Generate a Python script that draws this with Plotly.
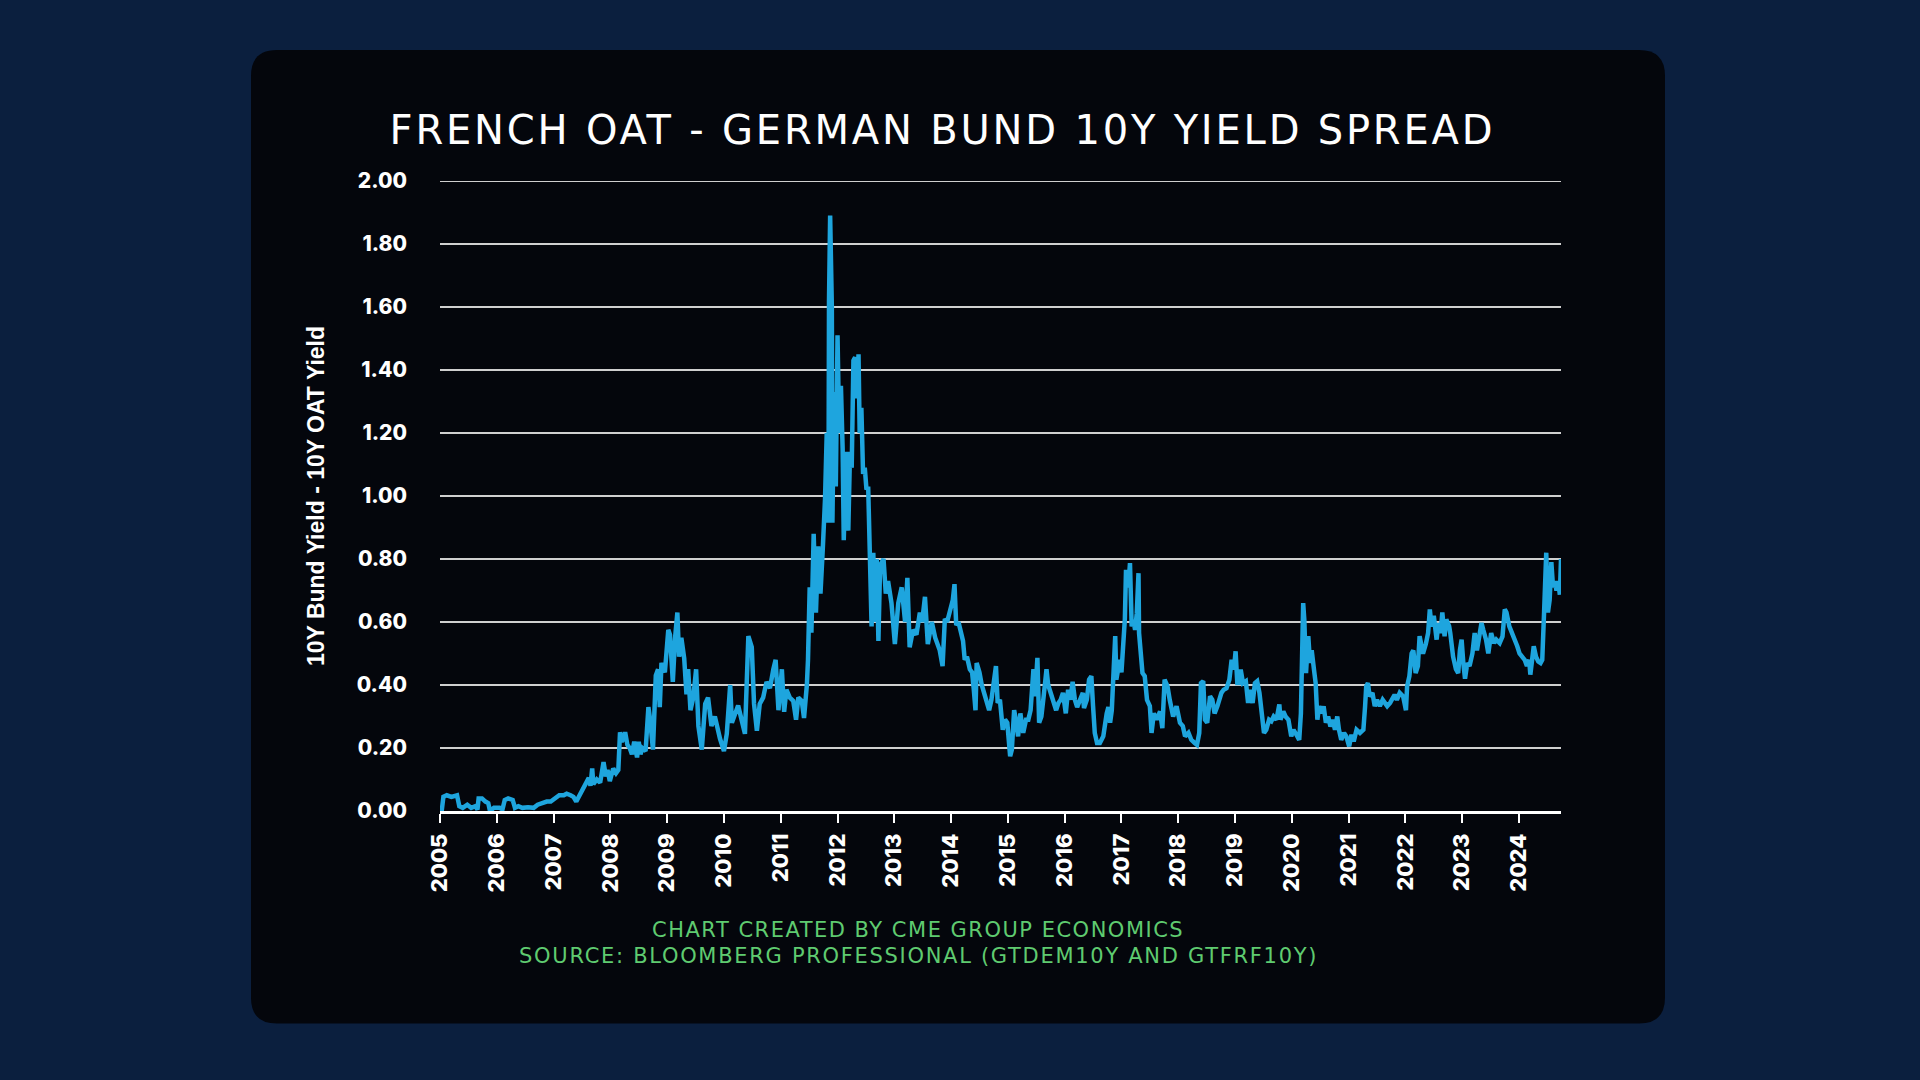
import json
import plotly.graph_objects as go

# ---------------- data (decimal year, spread in %) ----------------
years_2005_2008 = [
    2005.00, 2005.03, 2005.06, 2005.12, 2005.20, 2005.30, 2005.34, 2005.40, 2005.48, 2005.55,
    2005.62, 2005.66, 2005.68, 2005.74, 2005.80, 2005.85, 2005.88, 2005.95, 2006.05, 2006.10,
    2006.14, 2006.20, 2006.28, 2006.32, 2006.38, 2006.45, 2006.55, 2006.65, 2006.72, 2006.80,
    2006.88, 2006.95, 2007.03, 2007.10, 2007.18, 2007.23, 2007.30, 2007.35, 2007.40, 2007.46,
    2007.52, 2007.58, 2007.62, 2007.65, 2007.68, 2007.70, 2007.76, 2007.82, 2007.88, 2007.92,
    2007.95, 2007.99, 2008.05, 2008.10, 2008.14, 2008.17, 2008.20, 2008.23, 2008.26, 2008.30,
    2008.34, 2008.38, 2008.42, 2008.47, 2008.50, 2008.53, 2008.56, 2008.62, 2008.67, 2008.70,
    2008.75, 2008.80, 2008.84, 2008.87]
spread_2005_2008 = [
    0.00, 0.00, 0.045, 0.05, 0.045, 0.05, 0.015, 0.01, 0.02, 0.01,
    0.015, 0.005, 0.04, 0.04, 0.03, 0.025, 0.0, 0.01, 0.01, 0.005,
    0.035, 0.04, 0.035, 0.01, 0.015, 0.01, 0.012, 0.01, 0.02, 0.025,
    0.03, 0.03, 0.04, 0.05, 0.05, 0.055, 0.05, 0.045, 0.03, 0.05,
    0.075, 0.09, 0.105, 0.08, 0.135, 0.085, 0.10, 0.09, 0.155, 0.11,
    0.13, 0.095, 0.135, 0.12, 0.13, 0.25, 0.22, 0.23, 0.25, 0.21,
    0.20, 0.18, 0.22, 0.17, 0.22, 0.18, 0.20, 0.19, 0.33, 0.29,
    0.195, 0.43, 0.45, 0.33]

years_2009_2011 = [
    2008.90, 2008.96, 2009.02, 2009.05, 2009.10, 2009.14, 2009.18, 2009.21, 2009.25, 2009.30,
    2009.34, 2009.37, 2009.41, 2009.46, 2009.51, 2009.55, 2009.61, 2009.67, 2009.72, 2009.78,
    2009.84, 2009.93, 2010.00, 2010.05, 2010.11, 2010.14, 2010.19, 2010.25, 2010.31, 2010.37,
    2010.43, 2010.49, 2010.53, 2010.58, 2010.63, 2010.69, 2010.75, 2010.81, 2010.87, 2010.91,
    2010.96, 2011.02, 2011.06, 2011.10, 2011.16, 2011.22, 2011.27, 2011.31, 2011.37, 2011.41,
    2011.46, 2011.48]
spread_2009_2011 = [
    0.47, 0.44, 0.575, 0.56, 0.41, 0.55, 0.63, 0.49, 0.55, 0.485,
    0.37, 0.45, 0.32, 0.36, 0.45, 0.27, 0.195, 0.34, 0.36, 0.27,
    0.30, 0.23, 0.19, 0.245, 0.40, 0.28, 0.31, 0.335, 0.29, 0.245,
    0.555, 0.52, 0.34, 0.255, 0.34, 0.36, 0.41, 0.39, 0.45, 0.48,
    0.32, 0.45, 0.315, 0.385, 0.36, 0.35, 0.29, 0.36, 0.35, 0.295,
    0.40, 0.48]

years_2011_2013 = [
    2011.51, 2011.54, 2011.58, 2011.62, 2011.66, 2011.70, 2011.74, 2011.78, 2011.81, 2011.84,
    2011.85, 2011.87, 2011.90, 2011.91, 2011.94, 2011.97, 2012.00, 2012.03, 2012.06, 2012.09,
    2012.11, 2012.15, 2012.19, 2012.22, 2012.25, 2012.28, 2012.31, 2012.34, 2012.37, 2012.39,
    2012.42, 2012.45, 2012.48, 2012.51, 2012.54, 2012.57, 2012.60, 2012.63, 2012.66, 2012.69,
    2012.72, 2012.75, 2012.81, 2012.85, 2012.89, 2012.95, 2013.01, 2013.07, 2013.13, 2013.19,
    2013.23, 2013.27, 2013.33, 2013.39, 2013.45, 2013.49, 2013.54, 2013.59, 2013.66, 2013.72,
    2013.80]
spread_2011_2013 = [
    0.71, 0.566, 0.88, 0.63, 0.84, 0.69, 0.83, 0.99, 1.20, 0.915,
    1.62, 1.89, 1.60, 0.915, 1.33, 1.03, 1.51, 1.20, 1.35, 1.15,
    0.86, 1.14, 0.89, 1.14, 1.09, 1.43, 1.44, 1.31, 1.45, 1.20,
    1.28, 1.07, 1.09, 1.02, 1.03, 0.82, 0.586, 0.82, 0.60, 0.80,
    0.54, 0.78, 0.80, 0.69, 0.73, 0.66, 0.53, 0.66, 0.71, 0.60,
    0.74, 0.52, 0.575, 0.56, 0.63, 0.60, 0.68, 0.53, 0.60, 0.55,
    0.51]

years_2014_2018 = [
    2013.85, 2013.89, 2013.93, 2013.98, 2014.03, 2014.06, 2014.09, 2014.13, 2014.17, 2014.21,
    2014.24, 2014.28, 2014.33, 2014.37, 2014.40, 2014.43, 2014.45, 2014.50, 2014.54, 2014.58,
    2014.63, 2014.67, 2014.71, 2014.75, 2014.79, 2014.82, 2014.86, 2014.91, 2014.95, 2014.99,
    2015.04, 2015.07, 2015.11, 2015.14, 2015.18, 2015.22, 2015.27, 2015.32, 2015.36, 2015.40,
    2015.45, 2015.48, 2015.52, 2015.55, 2015.59, 2015.63, 2015.68, 2015.71, 2015.75, 2015.80,
    2015.85, 2015.89, 2015.93, 2015.97, 2016.02, 2016.06, 2016.10, 2016.14, 2016.18, 2016.22,
    2016.27, 2016.32, 2016.34, 2016.39, 2016.43, 2016.47, 2016.50, 2016.53, 2016.57, 2016.62,
    2016.68, 2016.71, 2016.74, 2016.77, 2016.80, 2016.83, 2016.86, 2016.89, 2016.91, 2016.94,
    2016.97, 2017.00, 2017.03, 2017.06, 2017.08, 2017.12, 2017.15, 2017.18, 2017.21, 2017.24,
    2017.27, 2017.30, 2017.31, 2017.34, 2017.37, 2017.41, 2017.45, 2017.50, 2017.53, 2017.57,
    2017.62, 2017.68, 2017.72, 2017.76, 2017.81, 2017.85, 2017.91, 2017.97, 2018.03, 2018.08,
    2018.12, 2018.18, 2018.23, 2018.29, 2018.33]
spread_2014_2018 = [
    0.46, 0.61, 0.60, 0.63, 0.67, 0.72, 0.59, 0.60, 0.575, 0.54,
    0.48, 0.49, 0.45, 0.44, 0.385, 0.32, 0.47, 0.44, 0.40, 0.375,
    0.353, 0.32, 0.353, 0.40, 0.46, 0.343, 0.353, 0.258, 0.29, 0.28,
    0.174, 0.195, 0.32, 0.29, 0.237, 0.31, 0.248, 0.29, 0.29, 0.32,
    0.45, 0.364, 0.486, 0.28, 0.30, 0.364, 0.45, 0.40, 0.375, 0.343,
    0.32, 0.343, 0.353, 0.375, 0.31, 0.385, 0.353, 0.41, 0.353, 0.33,
    0.353, 0.375, 0.327, 0.353, 0.417, 0.428, 0.333, 0.248, 0.216, 0.216,
    0.237, 0.29, 0.31, 0.33, 0.28, 0.32, 0.47, 0.555, 0.417, 0.46,
    0.48, 0.44, 0.52, 0.61, 0.766, 0.71, 0.787, 0.586, 0.607, 0.575,
    0.628, 0.755, 0.565, 0.48, 0.438, 0.428, 0.353, 0.333, 0.248, 0.31,
    0.29, 0.316, 0.263, 0.417, 0.396, 0.353, 0.30, 0.333, 0.28, 0.27,
    0.237, 0.248, 0.226, 0.216, 0.21]

years_2018_2022 = [
    2018.37, 2018.40, 2018.44, 2018.47, 2018.51, 2018.56, 2018.60, 2018.64, 2018.69, 2018.72,
    2018.76, 2018.80, 2018.85, 2018.90, 2018.94, 2018.98, 2019.01, 2019.04, 2019.07, 2019.10,
    2019.14, 2019.19, 2019.23, 2019.26, 2019.31, 2019.35, 2019.39, 2019.43, 2019.47, 2019.51,
    2019.55, 2019.60, 2019.64, 2019.68, 2019.73, 2019.78, 2019.80, 2019.85, 2019.89, 2019.94,
    2019.99, 2020.03, 2020.08, 2020.13, 2020.16, 2020.18, 2020.20, 2020.22, 2020.25, 2020.27,
    2020.29, 2020.32, 2020.35, 2020.39, 2020.42, 2020.45, 2020.48, 2020.52, 2020.56, 2020.60,
    2020.64, 2020.68, 2020.72, 2020.76, 2020.80, 2020.83, 2020.87, 2020.92, 2020.96, 2021.01,
    2021.05, 2021.09, 2021.14, 2021.20, 2021.26, 2021.29, 2021.31, 2021.34, 2021.37, 2021.42,
    2021.46, 2021.50, 2021.55, 2021.60, 2021.64, 2021.68, 2021.73, 2021.77, 2021.81, 2021.85,
    2021.90, 2021.96, 2022.01, 2022.03, 2022.07, 2022.11, 2022.14, 2022.18, 2022.22, 2022.25,
    2022.28, 2022.31, 2022.36, 2022.40, 2022.43, 2022.46, 2022.50]
spread_2018_2022 = [
    0.248, 0.406, 0.412, 0.29, 0.28, 0.364, 0.353, 0.31, 0.333, 0.353,
    0.375, 0.385, 0.39, 0.417, 0.48, 0.449, 0.507, 0.406, 0.406, 0.449,
    0.406, 0.412, 0.343, 0.385, 0.343, 0.406, 0.412, 0.375, 0.32, 0.248,
    0.258, 0.29, 0.285, 0.30, 0.29, 0.338, 0.29, 0.316, 0.30, 0.29,
    0.237, 0.258, 0.242, 0.226, 0.31, 0.586, 0.66, 0.607, 0.438, 0.50,
    0.555, 0.47, 0.51, 0.449, 0.406, 0.29, 0.333, 0.31, 0.332, 0.28,
    0.30, 0.268, 0.29, 0.258, 0.30, 0.258, 0.226, 0.248, 0.237, 0.205,
    0.242, 0.221, 0.258, 0.248, 0.258, 0.332, 0.396, 0.406, 0.364, 0.375,
    0.333, 0.353, 0.333, 0.353, 0.343, 0.333, 0.343, 0.353, 0.369, 0.353,
    0.375, 0.364, 0.32, 0.396, 0.428, 0.50, 0.51, 0.438, 0.46, 0.555,
    0.52, 0.50, 0.53, 0.565, 0.64, 0.586, 0.62]

years_2022_2024 = [
    2022.55, 2022.58, 2022.62, 2022.65, 2022.69, 2022.72, 2022.77, 2022.79, 2022.84, 2022.89,
    2022.93, 2022.96, 2022.99, 2023.02, 2023.05, 2023.09, 2023.13, 2023.18, 2023.22, 2023.26,
    2023.30, 2023.34, 2023.37, 2023.42, 2023.46, 2023.49, 2023.51, 2023.56, 2023.60, 2023.66,
    2023.71, 2023.75, 2023.78, 2023.83, 2023.87, 2023.93, 2023.97, 2024.01, 2024.06, 2024.10,
    2024.14, 2024.18, 2024.20, 2024.24, 2024.26, 2024.30, 2024.34, 2024.38, 2024.41, 2024.44,
    2024.46, 2024.48, 2024.51, 2024.54, 2024.57, 2024.60, 2024.63, 2024.66, 2024.69, 2024.72,
    2024.74]
spread_2022_2024 = [
    0.544, 0.597, 0.565, 0.63, 0.555, 0.608, 0.587, 0.565, 0.49, 0.45,
    0.438, 0.51, 0.544, 0.47, 0.42, 0.47, 0.46, 0.50, 0.565, 0.51,
    0.565, 0.597, 0.576, 0.544, 0.50, 0.554, 0.565, 0.533, 0.544, 0.533,
    0.554, 0.64, 0.63, 0.586, 0.57, 0.544, 0.523, 0.50, 0.49, 0.48,
    0.46, 0.48, 0.433, 0.50, 0.523, 0.49, 0.475, 0.47, 0.48, 0.62,
    0.78, 0.82, 0.63, 0.67, 0.79, 0.71, 0.73, 0.70, 0.73, 0.687,
    0.80]

tick_years = list(range(2005, 2025))
tick_labels = [str(y) for y in tick_years]
y_ticks = [0.0, 0.2, 0.4, 0.6, 0.8, 1.0, 1.2, 1.4, 1.6, 1.8, 2.0]

title_text = "FRENCH OAT - GERMAN BUND 10Y YIELD SPREAD"
y_title_text = "10Y Bund Yield - 10Y OAT Yield"
footer_1 = "CHART CREATED BY CME GROUP ECONOMICS"
footer_2 = "SOURCE: BLOOMBERG PROFESSIONAL (GTDEM10Y AND GTFRF10Y)"

years = (years_2005_2008 + years_2009_2011 + years_2011_2013 + years_2014_2018
         + years_2018_2022 + years_2022_2024)
spread = (spread_2005_2008 + spread_2009_2011 + spread_2011_2013 + spread_2014_2018
          + spread_2018_2022 + spread_2022_2024)

# ---------------- layout geometry (pixels) ----------------
W, H = 1920, 1080
PL, PR, PT, PB = 440, 1561, 181, 811.3   # plot area edges
BG = "#0b1f3e"
CARD = "#04060c"
LINE = "#1ea5de"
GRID = "#cfcfcf"
GREEN = "#5fcb70"


def px(x):
    return (x - PL) / (PR - PL)


def py(y):
    return (PB - y) / (PB - PT)


cx0, cx1, cy0, cy1, r = 251, 1665, 50, 1024, 26
card_path = (
    f"M {px(cx0 + r)},{py(cy0)} L {px(cx1 - r)},{py(cy0)} "
    f"Q {px(cx1)},{py(cy0)} {px(cx1)},{py(cy0 + r)} "
    f"L {px(cx1)},{py(cy1 - r)} Q {px(cx1)},{py(cy1)} {px(cx1 - r)},{py(cy1)} "
    f"L {px(cx0 + r)},{py(cy1)} Q {px(cx0)},{py(cy1)} {px(cx0)},{py(cy1 - r)} "
    f"L {px(cx0)},{py(cy0 + r)} Q {px(cx0)},{py(cy0)} {px(cx0 + r)},{py(cy0)} Z"
)

fig = go.Figure()
fig.add_trace(go.Scatter(
    x=years, y=spread, mode="lines",
    line=dict(color=LINE, width=4.5),
    hoverinfo="x+y", showlegend=False,
))

tick_font_x = dict(family="Inter, Lato, 'DejaVu Sans', sans-serif", size=22,
                   color="white", weight=800)
tick_font_y = dict(family="Inter, Lato, 'DejaVu Sans', sans-serif", size=21,
                   color="white", weight=800)

fig.update_layout(
    width=W, height=H,
    margin=dict(l=PL, r=W - PR, t=PT, b=H - PB, pad=0),
    paper_bgcolor=BG,
    plot_bgcolor=CARD,
    showlegend=False,
    shapes=[
        dict(type="path", path=card_path, xref="paper", yref="paper",
             fillcolor=CARD, line=dict(width=0), layer="below"),
        # top gridline at 2.00 (plotly skips grid lines on the plot edge)
        dict(type="line", xref="paper", yref="y", x0=0, x1=1,
             y0=y_ticks[-1], y1=y_ticks[-1], line=dict(color=GRID, width=2),
             layer="above"),
    ],
    xaxis=dict(
        range=[2005, 2024.74],
        tickmode="array", tickvals=tick_years, ticktext=tick_labels,
        tickangle=-90, tickfont=tick_font_x,
        ticks="outside", ticklen=9, tickwidth=2, tickcolor="white",
        showline=True, linecolor="white", linewidth=2.5,
        showgrid=False, zeroline=False,
        ticklabelstandoff=2,
    ),
    yaxis=dict(
        range=[0, 2.0],
        tickmode="array", tickvals=y_ticks, tickformat=".2f",
        tickfont=tick_font_y,
        showgrid=True, gridcolor=GRID, gridwidth=2,
        zeroline=False, showline=False, ticks="",
        ticklabelstandoff=32,
    ),
    annotations=[
        dict(text=title_text, xref="paper", yref="paper", x=px(942), y=py(130),
             xanchor="center", yanchor="middle", showarrow=False,
             font=dict(family="'DejaVu Sans', sans-serif", size=40, color="white", weight=400)),
        dict(text=y_title_text, xref="paper", yref="paper", x=px(316), y=0.5,
             xanchor="center", yanchor="middle", textangle=-90, showarrow=False,
             font=dict(family="'Liberation Sans', Arial, sans-serif", size=23,
                       color="white", weight=700)),
        dict(text=footer_1, xref="paper", yref="paper", x=px(918), y=py(930),
             xanchor="center", yanchor="middle", showarrow=False,
             font=dict(family="'DejaVu Sans', sans-serif", size=21, color=GREEN)),
        dict(text=footer_2, xref="paper", yref="paper", x=px(918), y=py(956),
             xanchor="center", yanchor="middle", showarrow=False,
             font=dict(family="'DejaVu Sans', sans-serif", size=21, color=GREEN)),
    ],
)

# page: no body margin; widen letter spacing of title / footer text like the original
spacing = {title_text: "2.8px", footer_1: "1.5px", footer_2: "1.7px"}
post_js = """
document.body.style.margin = '0';
document.body.style.background = '%s';
var gd = document.getElementById('{plot_id}');
var sp = %s;
gd.querySelectorAll('.annotation-text').forEach(function (el) {
  var s = sp[el.textContent];
  if (s) { el.style.letterSpacing = s; }
});
""" % (BG, json.dumps(spacing))

fig.write_html("out.html", post_script=post_js,
               config={"displayModeBar": False})
